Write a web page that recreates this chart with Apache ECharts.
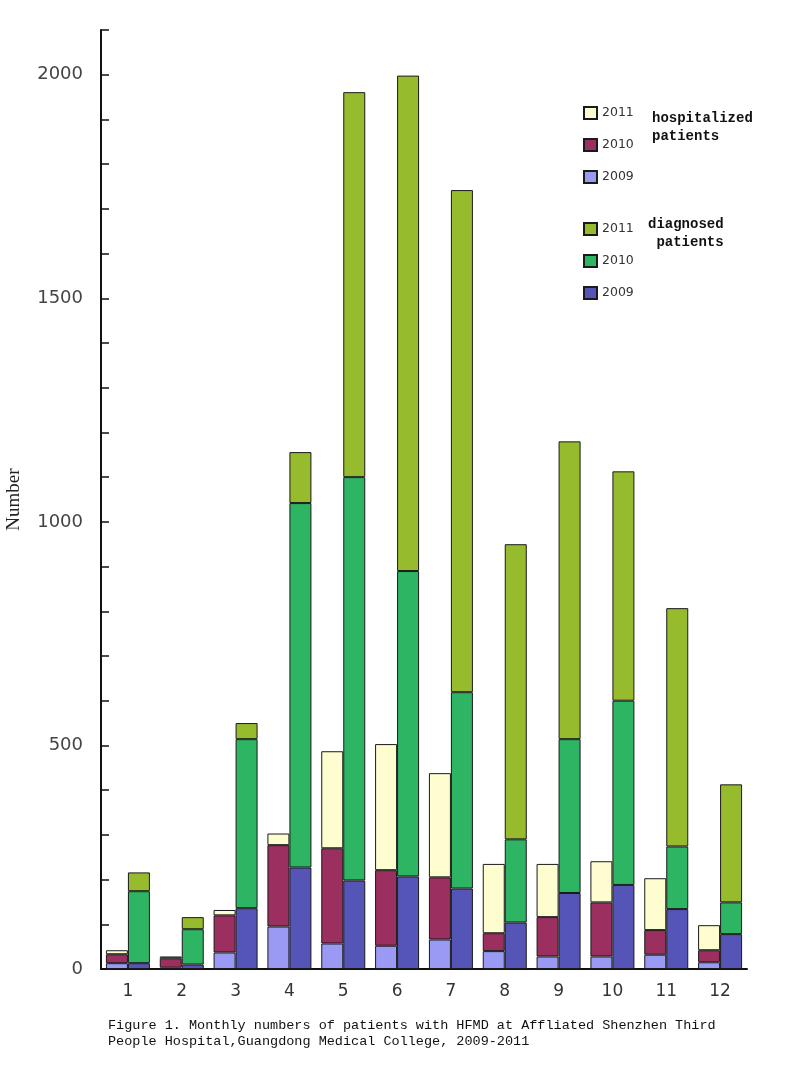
<!DOCTYPE html>
<html>
<head>
<meta charset="utf-8">
<script src="https://cdn.jsdelivr.net/npm/echarts@6/dist/echarts.min.js"></script>
<style>
html,body{margin:0;padding:0;background:#fff;}
#chart{width:808px;height:1076px;}
</style>
</head>
<body>
<div id="chart"></div>
<script>
var months = ['1','2','3','4','5','6','7','8','9','10','11','12'];
// hospitalized patients per year
var hosp2009 = [13, 3, 37, 95, 57, 52, 66, 40, 28, 28, 32, 15];
var hosp2010 = [20, 21, 83, 182, 213, 169, 139, 40, 88, 121, 55, 27];
var hosp2011 = [9, 4, 12, 26, 217, 282, 233, 155, 119, 92, 116, 56];
// diagnosed patients per year
var diag2009 = [13, 10, 136, 227, 198, 207, 180, 104, 170, 188, 134, 78];
var diag2010 = [161, 79, 378, 815, 902, 683, 439, 186, 344, 412, 140, 71];
var diag2011 = [42, 27, 36, 114, 861, 1108, 1123, 660, 666, 513, 533, 264];
var yTickLabels = [0, 500, 1000, 1500, 2000];

var colors = {
  h2009: '#9a9af5', h2010: '#9b2f5f', h2011: '#fdfdcf',
  d2009: '#5555b8', d2010: '#2db563', d2011: '#96bb2c'
};

function bar(name, stack, data, color) {
  return {
    name: name, type: 'bar', stack: stack, data: data,
    barWidth: 22, barGap: '0%',
    itemStyle: { color: color, borderColor: '#1a1a1a', borderWidth: 1 },
    emphasis: { disabled: true }
  };
}

var legendText = { fontFamily: 'DejaVu Sans', fontSize: 12.5, color: '#333' };

var chart = echarts.init(document.getElementById('chart'));
chart.setOption({
  animation: false,
  backgroundColor: '#fff',
  grid: { left: 101, right: 61, top: 30, bottom: 107, containLabel: false, outerBoundsMode: 'none' },
  legend: [
    {
      data: ['h2011', 'h2010', 'h2009'], orient: 'vertical', left: 578, top: 101,
      icon: 'rect', itemWidth: 13, itemHeight: 12, itemGap: 18,
      formatter: function (n) { return n.slice(1); },
      textStyle: legendText, selectedMode: false
    },
    {
      data: ['d2011', 'd2010', 'd2009'], orient: 'vertical', left: 578, top: 217,
      icon: 'rect', itemWidth: 13, itemHeight: 12, itemGap: 18,
      formatter: function (n) { return n.slice(1); },
      textStyle: legendText, selectedMode: false
    }
  ],
  xAxis: {
    type: 'category', data: months,
    axisLine: { lineStyle: { color: '#111', width: 2 } },
    axisTick: { show: false },
    axisLabel: { fontFamily: 'DejaVu Sans', fontSize: 17, color: '#333', margin: 14 }
  },
  yAxis: {
    type: 'value', min: 0, max: 2100, interval: 100,
    name: 'Number', nameLocation: 'middle', nameGap: 77, nameRotate: 90,
    nameTextStyle: { fontFamily: 'Liberation Serif', fontSize: 19, color: '#222' },
    axisLine: { show: true, lineStyle: { color: '#111', width: 2 } },
    axisTick: { show: true, inside: true, length: 8, lineStyle: { color: '#111', width: 1.5 } },
    splitLine: { show: false },
    axisLabel: {
      fontFamily: 'DejaVu Sans', fontSize: 18, color: '#444', margin: 18,
      formatter: function (v) { return yTickLabels.indexOf(v) >= 0 ? String(v) : ''; }
    }
  },
  series: [
    bar('h2009', 'hosp', hosp2009, colors.h2009),
    bar('h2010', 'hosp', hosp2010, colors.h2010),
    bar('h2011', 'hosp', hosp2011, colors.h2011),
    bar('d2009', 'diag', diag2009, colors.d2009),
    bar('d2010', 'diag', diag2010, colors.d2010),
    bar('d2011', 'diag', diag2011, colors.d2011)
  ],
  graphic: [
    { type: 'text', left: 652, top: 109, style: { text: 'hospitalized\npatients', fontFamily: 'Liberation Mono', fontWeight: 'bold', fontSize: 14, lineHeight: 18, fill: '#111' } },
    { type: 'text', left: 648, top: 215, style: { text: 'diagnosed\n patients', fontFamily: 'Liberation Mono', fontWeight: 'bold', fontSize: 14, lineHeight: 18, fill: '#111' } },
    { type: 'text', left: 108, top: 1017, style: { text: 'Figure 1. Monthly numbers of patients with HFMD at Affliated Shenzhen Third\nPeople Hospital,Guangdong Medical College, 2009-2011', fontFamily: 'Liberation Mono', fontSize: 13.5, lineHeight: 16, fill: '#111' } }
  ]
});
</script>
</body>
</html>
